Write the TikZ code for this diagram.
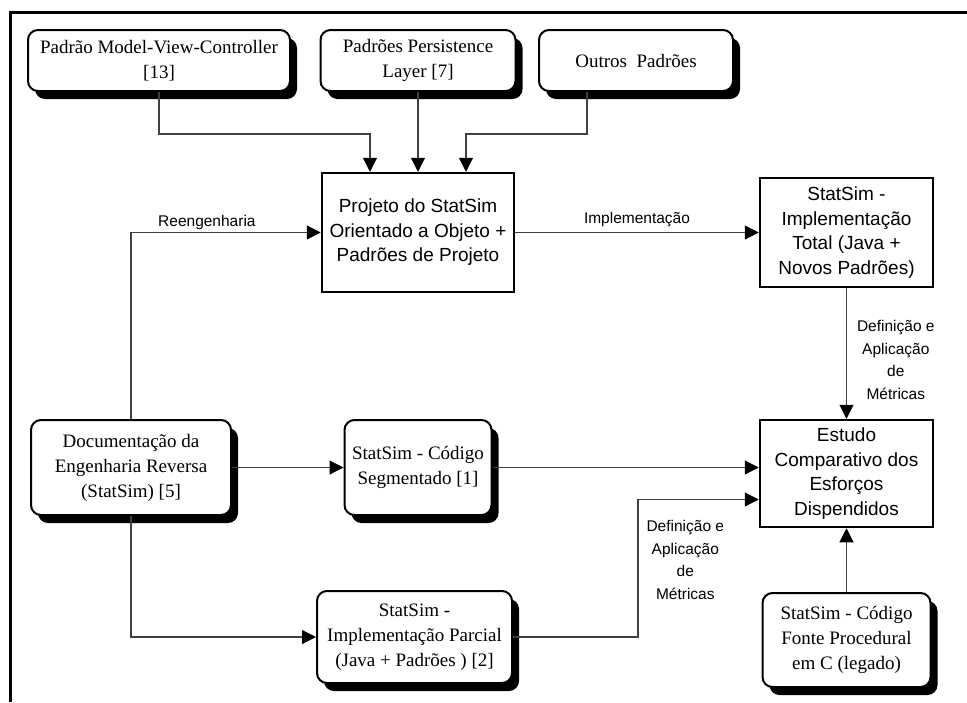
\documentclass[tikz,border=0pt]{standalone}
\usepackage{fontspec}
\setmainfont{Liberation Serif}
\setsansfont{Liberation Sans}
\usetikzlibrary{positioning, shadows, arrows.meta}
\tikzset{
	roundbox/.style={draw, line width=2pt, rounded corners=10pt, fill=white, align=center, inner sep=0pt,
		font=\rmfamily\fontsize{19}{25}\selectfont,
		drop shadow={shadow xshift=7pt, shadow yshift=-8pt, fill=black, opacity=1}},
	sharpbox/.style={draw, line width=2.5pt, fill=white, align=center, inner sep=0pt,
		font=\sffamily\fontsize{19}{24.5}\selectfont},
	conn/.style={draw=black!75, line width=1.1pt, -{Triangle[length=14pt,width=14pt,color=black]}},
	edgelabel/.style={font=\sffamily\fontsize{15.5}{22.5}\selectfont, align=center, inner sep=2pt}
}

\begin{document}
\begin{tikzpicture}[x=1pt, y=-1pt]
\useasboundingbox (0,0) rectangle (967,702);
\draw[line width=3pt] (10,702) -- (10,12) -- (967,12);

% padroes de entrada
\node[roundbox, minimum width=262pt, minimum height=61pt] (mvc) at (159,60.5) {Padrão Model-View-Controller\\{}[13]};
\node[roundbox, minimum width=195pt, minimum height=61pt] (pers) at (418,60.5) {Padrões Persistence\\Layer [7]};
\node[roundbox, minimum width=194pt, minimum height=61pt] (outros) at (636,60.5) {Outros~ Padrões};

% projeto e implementacoes
\node[sharpbox, minimum width=192pt, minimum height=119pt] (projeto) at (418,232.5) {Projeto do StatSim\\Orientado a Objeto +\\Padrões de Projeto};
\node[sharpbox, minimum width=173pt, minimum height=109pt] (total) at (846.5,232.5) {StatSim -\\Implementação\\Total (Java +\\Novos Padrões)};
\node[sharpbox, minimum width=173pt, minimum height=107pt] (estudo) at (846.5,473.5) {Estudo\\Comparativo dos\\Esforços\\Dispendidos};

\node[roundbox, minimum width=200pt, minimum height=95pt] (doc) at (131,467.5) {Documentação da\\Engenharia Reversa\\(StatSim) [5]};
\node[roundbox, minimum width=147pt, minimum height=95pt] (seg) at (418,467.5) {StatSim - Código\\Segmentado [1]};
\node[roundbox, minimum width=195pt, minimum height=92pt] (parcial) at (414.5,637) {StatSim -\\Implementação Parcial\\(Java + Padrões ) [2]};
\node[roundbox, minimum width=168pt, minimum height=94pt] (legado) at (846.5,640) {StatSim - Código\\Fonte Procedural\\em C (legado)};

% conexoes
\path[conn] (mvc.south) -- ++(0,42) -| ([xshift=-48pt]projeto.north);
\path[conn] (pers.south) -- (projeto.north);
\path[conn] ([xshift=-49pt]outros.south) -- ++(0,42) -| ([xshift=48pt]projeto.north);

\path[conn] (doc.north) |- node[pos=0.7, above, edgelabel] {Reengenharia} (projeto.west);
\path[conn] (projeto) -- node[midway, above=3pt, edgelabel] {Implementação} (total);
\path[conn] (total) -- node[pos=0.55, right=8pt, edgelabel] {Definição e\\Aplicação\\de\\Métricas} (estudo);

\path[conn] (doc) -- (seg);
\path[conn] (seg.east) -- (seg.east -| estudo.west);
\path[conn] (doc.south) |- (parcial.west);
\path[conn] (parcial.east) -- ++(125,0) |- node[pos=0.28, right=6pt, edgelabel] {Definição e\\Aplicação\\de\\Métricas} ([yshift=-26pt]estudo.west);
\path[conn] (legado) -- (estudo);
\end{tikzpicture}
\end{document}
